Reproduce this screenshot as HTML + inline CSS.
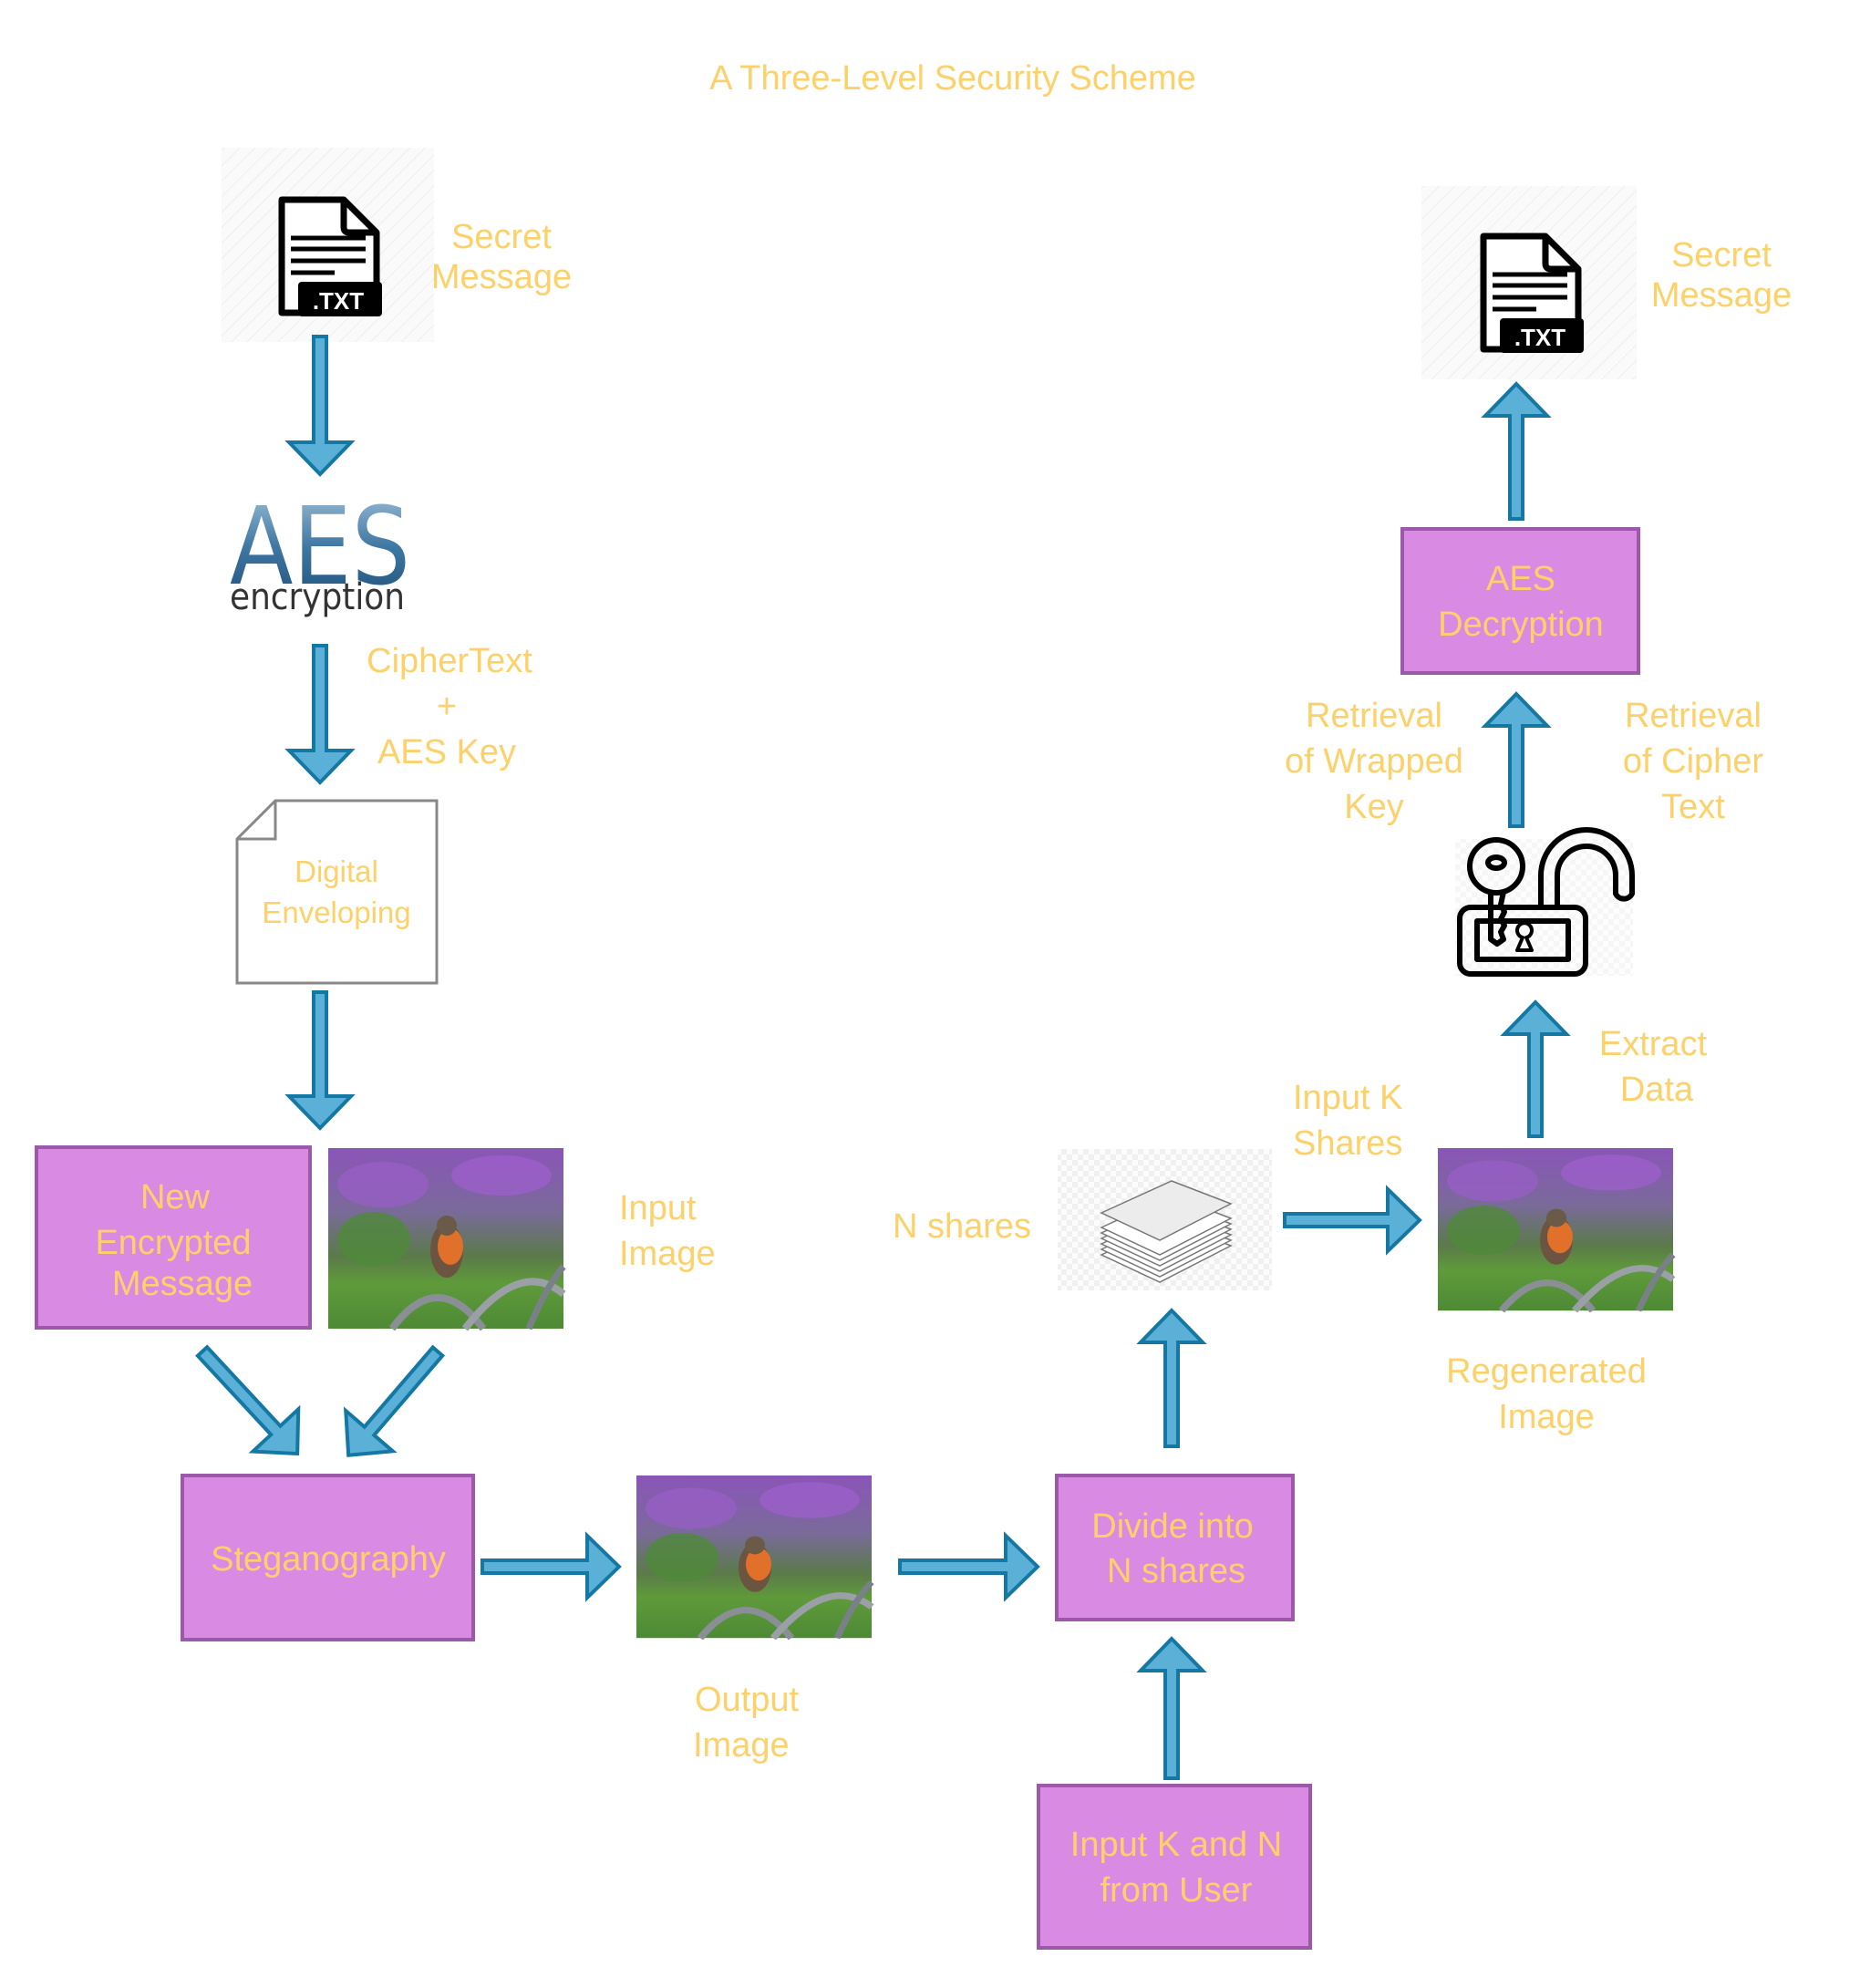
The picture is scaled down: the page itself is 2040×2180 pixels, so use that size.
<!DOCTYPE html>
<html><head><meta charset="utf-8"><style>
html,body{margin:0;padding:0;background:#fff;}
svg{display:block;}
.t{font-family:"Liberation Sans",sans-serif;fill:#fdd16a;text-anchor:middle;}
.s{text-anchor:start;}
</style></head><body>
<svg width="2040" height="2180" viewBox="0 0 2040 2180" xmlns="http://www.w3.org/2000/svg">
<defs>
<linearGradient id="aes" x1="0" y1="0" x2="0" y2="1"><stop offset="0" stop-color="#a9c6dc"/><stop offset="0.5" stop-color="#3f78a3"/><stop offset="1" stop-color="#1c4d78"/></linearGradient>
<pattern id="hatch" width="12" height="12" patternUnits="userSpaceOnUse" patternTransform="rotate(45)"><rect width="12" height="12" fill="#fafafa"/><line x1="0" y1="0" x2="0" y2="12" stroke="#eeeeee" stroke-width="2"/></pattern>
<pattern id="check" width="12" height="12" patternUnits="userSpaceOnUse"><rect width="12" height="12" fill="#fcfcfc"/><rect width="6" height="6" fill="#f0f0f0"/><rect x="6" y="6" width="6" height="6" fill="#f0f0f0"/></pattern>
<linearGradient id="sky" x1="0" y1="0" x2="0" y2="1"><stop offset="0" stop-color="#8a55b8"/><stop offset="0.35" stop-color="#7a6a9a"/><stop offset="0.6" stop-color="#5b7a4a"/><stop offset="0.75" stop-color="#5f9a3a"/><stop offset="1" stop-color="#4e8a35"/></linearGradient>
<g id="bird">
<rect width="258" height="198" fill="url(#sky)"/>
<ellipse cx="60" cy="40" rx="50" ry="25" fill="#9a5ec9" opacity="0.7"/>
<ellipse cx="190" cy="30" rx="55" ry="22" fill="#a060cf" opacity="0.7"/>
<ellipse cx="50" cy="100" rx="40" ry="30" fill="#4f8a3a" opacity="0.8"/>
<ellipse cx="130" cy="112" rx="18" ry="30" fill="#6b5540"/>
<ellipse cx="134" cy="108" rx="14" ry="20" fill="#e0702a"/>
<circle cx="130" cy="85" r="11" fill="#6b5a48"/>
<path d="M70 198 Q120 130 170 198" fill="none" stroke="#8a8f95" stroke-width="8"/>
<path d="M150 198 Q210 120 258 160" fill="none" stroke="#9aa0a6" stroke-width="8"/>
<path d="M220 198 Q240 150 258 130" fill="none" stroke="#7a8088" stroke-width="7"/>
</g>
<g id="txt">
<path d="M4 4 H72 L108 40 V128 H4 Z" fill="#fff" stroke="#000" stroke-width="7" stroke-linejoin="round"/>
<path d="M72 4 V34 Q72 40 78 40 H108" fill="none" stroke="#000" stroke-width="7"/>
<line x1="14" y1="46" x2="96" y2="46" stroke="#000" stroke-width="5"/>
<line x1="14" y1="58" x2="96" y2="58" stroke="#000" stroke-width="5"/>
<line x1="14" y1="71" x2="96" y2="71" stroke="#000" stroke-width="5"/>
<line x1="14" y1="84" x2="62" y2="84" stroke="#000" stroke-width="5"/>
<rect x="22" y="94" width="92" height="38" rx="4" fill="#000"/>
<text x="66" y="124" font-family="Liberation Sans,sans-serif" font-size="26" font-weight="bold" fill="#fff" text-anchor="middle">.TXT</text>
</g>
</defs>

<text class="t" x="1045" y="98" font-size="38">A Three-Level Security Scheme</text>

<rect x="243" y="162" width="233" height="213" fill="url(#hatch)"/>
<use href="#txt" x="305" y="215"/>
<text class="t" x="550" y="272" font-size="38">Secret</text>
<text class="t" x="550" y="316" font-size="38">Message</text>

<text x="252" y="640" font-family="DejaVu Sans,sans-serif" font-size="118" fill="url(#aes)" textLength="198" lengthAdjust="spacingAndGlyphs">AES</text>
<text x="252" y="668" font-family="DejaVu Sans,sans-serif" font-size="40" fill="#333" textLength="192" lengthAdjust="spacingAndGlyphs">encryption</text>

<text class="t" x="493" y="737" font-size="38">CipherText</text>
<text class="t" x="490" y="787" font-size="38">+</text>
<text class="t" x="490" y="837" font-size="38">AES Key</text>

<path d="M302 878 H479 V1078 H260 V920 Z" fill="#fff" stroke="#888" stroke-width="3"/>
<path d="M302 878 V920 H260" fill="none" stroke="#888" stroke-width="3"/>
<text class="t" x="369" y="967" font-size="33">Digital</text>
<text class="t" x="369" y="1012" font-size="33">Enveloping</text>

<rect x="40" y="1258" width="300" height="198" fill="#d98be3" stroke="#9b59a8" stroke-width="4"/>
<text class="t" x="192" y="1325" font-size="38">New</text>
<text class="t" x="190" y="1375" font-size="38">Encrypted</text>
<text class="t" x="200" y="1420" font-size="38">Message</text>
<use href="#bird" x="360" y="1259"/>
<text class="t s" x="679" y="1337" font-size="38" style="text-anchor:start">Input</text>
<text class="t s" x="679" y="1387" font-size="38" style="text-anchor:start">Image</text>

<rect x="200" y="1618" width="319" height="180" fill="#d98be3" stroke="#9b59a8" stroke-width="4"/>
<text class="t" x="360" y="1722" font-size="38">Steganography</text>
<use href="#bird" x="698" y="1618" transform="translate(698 1618) scale(1 0.9) translate(-698 -1618)"/>
<text class="t s" x="762" y="1876" font-size="38" style="text-anchor:start">Output</text>
<text class="t s" x="760" y="1926" font-size="38" style="text-anchor:start">Image</text>

<rect x="1159" y="1618" width="259" height="158" fill="#d98be3" stroke="#9b59a8" stroke-width="4"/>
<text class="t" x="1286" y="1686" font-size="38">Divide into</text>
<text class="t" x="1290" y="1735" font-size="38">N shares</text>

<rect x="1139" y="1958" width="298" height="178" fill="#d98be3" stroke="#9b59a8" stroke-width="4"/>
<text class="t" x="1290" y="2035" font-size="38">Input K and N</text>
<text class="t" x="1290" y="2085" font-size="38">from User</text>

<rect x="1160" y="1260" width="235" height="155" fill="url(#check)"/>
<g fill="#fff" stroke="#777" stroke-width="1.5">
<path d="M1208 1340 L1285 1305 L1350 1330 L1272 1370 Z" transform="translate(0 36)"/>
<path d="M1208 1340 L1285 1305 L1350 1330 L1272 1370 Z" transform="translate(0 30)"/>
<path d="M1208 1340 L1285 1305 L1350 1330 L1272 1370 Z" transform="translate(0 24)"/>
<path d="M1208 1340 L1285 1305 L1350 1330 L1272 1370 Z" transform="translate(0 18)"/>
<path d="M1208 1340 L1285 1305 L1350 1330 L1272 1370 Z" transform="translate(0 12)"/>
<path d="M1208 1340 L1285 1305 L1350 1330 L1272 1370 Z" transform="translate(0 6)"/>
<path d="M1208 1340 L1285 1305 L1350 1330 L1272 1370 Z" transform="translate(0 -10)" fill="#ececec"/>
</g>
<text class="t" x="1055" y="1357" font-size="38">N shares</text>
<text class="t s" x="1418" y="1216" font-size="38" style="text-anchor:start">Input K</text>
<text class="t s" x="1418" y="1266" font-size="38" style="text-anchor:start">Shares</text>

<use href="#bird" x="1577" y="1259" transform="translate(1577 1259) scale(1 0.9) translate(-1577 -1259)"/>
<text class="t" x="1696" y="1516" font-size="38">Regenerated</text>
<text class="t" x="1696" y="1566" font-size="38">Image</text>
<text class="t" x="1813" y="1157" font-size="38">Extract</text>
<text class="t" x="1817" y="1207" font-size="38">Data</text>

<rect x="1596" y="920" width="195" height="150" fill="url(#check)" opacity="0.6"/>
<g fill="none" stroke="#000" stroke-width="6" stroke-linejoin="round">
<path d="M1690 993 V960 A50 50 0 0 1 1790 960 V980 A10 10 0 0 1 1772 980 V960 A32 32 0 0 0 1708 960 V993"/>
<rect x="1601" y="995" width="138" height="73" rx="12"/>
<rect x="1620" y="1010" width="100" height="42"/>
<circle cx="1641" cy="950" r="29"/>
<ellipse cx="1641" cy="946" rx="9" ry="6"/>
<path d="M1635 978 V1030 L1642 1035 L1649 1030 L1646 1022 L1650 1015 L1646 1008 L1650 1000 L1646 992 L1649 978"/>
<path d="M1664 1042 L1670 1028 A8 8 0 1 1 1674 1028 L1680 1042 Z" stroke-width="4"/>
</g>
<text class="t" x="1507" y="797" font-size="38">Retrieval</text>
<text class="t" x="1507" y="847" font-size="38">of Wrapped</text>
<text class="t" x="1507" y="897" font-size="38">Key</text>
<text class="t" x="1857" y="797" font-size="38">Retrieval</text>
<text class="t" x="1857" y="847" font-size="38">of Cipher</text>
<text class="t" x="1857" y="897" font-size="38">Text</text>

<rect x="1538" y="580" width="259" height="158" fill="#d98be3" stroke="#9b59a8" stroke-width="4"/>
<text class="t" x="1668" y="647" font-size="38">AES</text>
<text class="t" x="1668" y="697" font-size="38">Decryption</text>

<rect x="1559" y="204" width="236" height="212" fill="url(#hatch)"/>
<use href="#txt" x="1623" y="255"/>
<text class="t" x="1888" y="292" font-size="38">Secret</text>
<text class="t" x="1888" y="336" font-size="38">Message</text>

<g fill="#5ab0d6" stroke="#1577a3" stroke-width="4" stroke-linejoin="miter">
<path transform="translate(351 369) rotate(90)" d="M0,-7 H116 V-34 L151,0 L116,34 V7 H0 Z"/>
<path transform="translate(351 708) rotate(90)" d="M0,-7 H115 V-34 L150,0 L115,34 V7 H0 Z"/>
<path transform="translate(351 1088) rotate(90)" d="M0,-7 H114 V-34 L149,0 L114,34 V7 H0 Z"/>
<path transform="translate(222 1482) rotate(47.1)" d="M0,-7 H118 V-34 L153,0 L118,34 V7 H0 Z"/>
<path transform="translate(480 1482) rotate(130.7)" d="M0,-7 H115 V-34 L150,0 L115,34 V7 H0 Z"/>
<path transform="translate(529 1718)" d="M0,-7 H115 V-34 L150,0 L115,34 V7 H0 Z"/>
<path transform="translate(987 1718)" d="M0,-7 H116 V-34 L151,0 L116,34 V7 H0 Z"/>
<path transform="translate(1285 1950) rotate(-90)" d="M0,-7 H118 V-34 L153,0 L118,34 V7 H0 Z"/>
<path transform="translate(1285 1586) rotate(-90)" d="M0,-7 H114 V-34 L149,0 L114,34 V7 H0 Z"/>
<path transform="translate(1409 1338)" d="M0,-7 H113 V-34 L148,0 L113,34 V7 H0 Z"/>
<path transform="translate(1684 1246) rotate(-90)" d="M0,-7 H112 V-34 L147,0 L112,34 V7 H0 Z"/>
<path transform="translate(1663 906) rotate(-90)" d="M0,-7 H110 V-34 L145,0 L110,34 V7 H0 Z"/>
<path transform="translate(1663 569) rotate(-90)" d="M0,-7 H113 V-34 L148,0 L113,34 V7 H0 Z"/>
</g>
</svg>
</body></html>
